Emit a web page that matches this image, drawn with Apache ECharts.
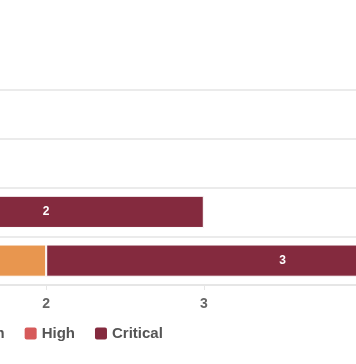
<!DOCTYPE html>
<html>
<head>
<meta charset="utf-8">
<script src="https://cdn.jsdelivr.net/npm/echarts@6/dist/echarts.min.js"></script>
<style>
  html, body { margin: 0; padding: 0; width: 356px; height: 364px; overflow: hidden; background: #fff; position: relative; }
  #chart { position: absolute; left: -400px; top: 0; width: 1000px; height: 364px; }
</style>
</head>
<body>
<div id="chart"></div>
<script>
// Data
const categories = ['Project A', 'Project B', 'Project C', 'Project D'];
const seriesNames = ['Low', 'Medium', 'High', 'Critical'];
const lowValues = [null, null, null, null];
const mediumValues = [2, null, null, null];
const highValues = [null, 1, null, null];
const criticalValues = [3, 2, null, null];
const xTicks = [0, 1, 2, 3, 4, 5];

const colors = {
  Low: '#f2c55c',
  Medium: '#e8964f',
  High: '#d65a5a',
  Critical: '#842a3e'
};

const valuesByName = { Low: lowValues, Medium: mediumValues, High: highValues, Critical: criticalValues };
const font = '"Liberation Sans", Arial, sans-serif';

const chart = echarts.init(document.getElementById('chart'), null, { renderer: 'canvas' });

const series = seriesNames.map(name => ({
  name: name,
  type: 'bar',
  stack: 'total',
  data: valuesByName[name],
  barCategoryGap: '34%',
  itemStyle: { color: colors[name], borderColor: '#ffffff', borderWidth: 1 },
  label: {
    show: true,
    position: 'inside',
    color: '#ffffff',
    fontFamily: font,
    fontWeight: 'bold',
    fontSize: 12,
    formatter: p => (p.value ? String(p.value) : '')
  }
}));

chart.setOption({
  animation: false,
  color: seriesNames.map(n => colors[n]),
  textStyle: { fontFamily: font },
  legend: {
    data: seriesNames,
    left: 259,
    top: 321,
    itemWidth: 12,
    itemHeight: 12,
    itemGap: 20,
    icon: 'path://M2,0 H10 Q12,0 12,2 V10 Q12,12 10,12 H2 Q0,12 0,10 V2 Q0,0 2,0 Z',
    itemStyle: { borderWidth: 0 },
    textStyle: { color: '#555555', fontSize: 15, fontWeight: 'bold', fontFamily: font }
  },
  grid: { left: 131, width: 788, top: 90, bottom: 79 },
  xAxis: {
    type: 'value',
    min: xTicks[0],
    max: xTicks[xTicks.length - 1],
    interval: 1,
    axisLine: { show: true, lineStyle: { color: '#e6e6e6', width: 2 } },
    axisTick: { show: true, length: 5, lineStyle: { color: '#e6e6e6' } },
    splitLine: { show: false },
    axisLabel: { color: '#666666', fontSize: 14, fontWeight: 'bold', fontFamily: font, margin: 12 }
  },
  yAxis: {
    type: 'category',
    data: categories,
    axisLine: { show: false },
    axisTick: { show: false },
    splitLine: { show: true, lineStyle: { color: '#ebebeb', width: 2 } },
    axisLabel: { color: '#666666', fontSize: 14, fontWeight: 'bold', fontFamily: font }
  },
  series: series
});
</script>
</body>
</html>
